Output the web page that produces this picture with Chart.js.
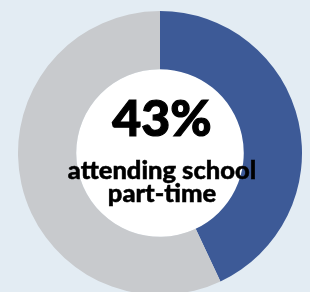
<!DOCTYPE html>
<html>
<head>
<meta charset="utf-8">
<script src="https://cdn.jsdelivr.net/npm/chart.js@4/dist/chart.umd.min.js"></script>
<style>
  html, body { margin:0; padding:0; }
  body { width:310px; height:292px; overflow:hidden; background:#e3ecf3; position:relative; font-family:Lato, "Open Sans", sans-serif; }
  #wrap { position:absolute; left:18px; top:11px; width:284px; height:284px; }
  .big { position:absolute; left:2px; width:320px; text-align:center; font-weight:900; color:#000; }
  #pct { top:89px; font-size:50px; line-height:56px; -webkit-text-stroke:1.2px #000; }
  #lbl { top:158px; font-size:25.5px; line-height:23px; -webkit-text-stroke:0.5px #000; }
</style>
</head>
<body>
<div id="wrap"><canvas id="chart-donut" width="284" height="284"></canvas></div>
<div class="big" id="pct"></div>
<div class="big" id="lbl"></div>
<script>
const labels = ['Attending school part-time', 'Other'];
const values = [43, 57];
const colors = ['#3d5a97', '#c8cacd'];
const headline = '43%';
const caption = ['attending school', 'part-time'];

document.getElementById('pct').textContent = headline;
document.getElementById('lbl').innerHTML = caption.join('<br>');

// white disc in the doughnut hole
const holeFill = {
  id:'holeFill',
  beforeDatasetsDraw(chart){
    const arc = chart.getDatasetMeta(0).data[0]; if (!arc) return;
    const c = chart.ctx;
    c.save();
    c.fillStyle = '#ffffff';
    c.beginPath();
    c.arc(arc.x, arc.y, arc.innerRadius, 0, Math.PI*2);
    c.fill();
    c.restore();
  }
};

new Chart(document.getElementById('chart-donut'), {
  type:'doughnut',
  data:{ labels, datasets:[{ data:values, backgroundColor:colors, borderWidth:0 }]},
  options:{
    responsive:false, animation:false, cutout:'59%',
    plugins:{ legend:{ display:false }, tooltip:{ enabled:false } }
  },
  plugins:[holeFill]
});
</script>
</body>
</html>
